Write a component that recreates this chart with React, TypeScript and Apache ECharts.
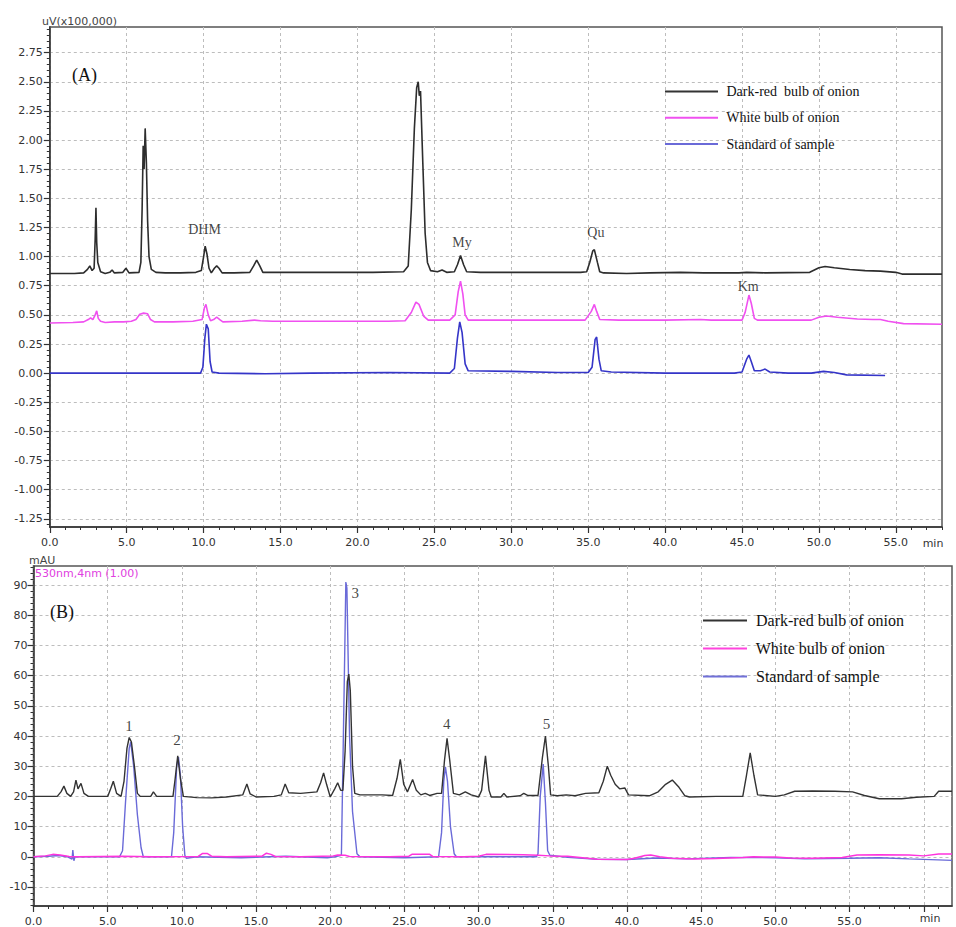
import React, { useEffect, useRef } from "react";
import * as echarts from "echarts";

// ---------- Names ----------
const NAMES_A = ["Dark-red  bulb of onion", "White bulb of onion", "Standard of sample"];
const NAMES_B = ["Dark-red bulb of onion", "White bulb of onion", "Standard of sample"];

// ---------- Ticks ----------
const X_TICKS_A = [0, 5, 10, 15, 20, 25, 30, 35, 40, 45, 50, 55];
const Y_TICKS_A = [-1.25, -1.0, -0.75, -0.5, -0.25, 0, 0.25, 0.5, 0.75, 1.0, 1.25, 1.5, 1.75, 2.0, 2.25, 2.5, 2.75];
const X_TICKS_B = [0, 5, 10, 15, 20, 25, 30, 35, 40, 45, 50, 55, 60];
const X_LABELS_B = [0, 5, 10, 15, 20, 25, 30, 35, 40, 45, 50, 55];
const Y_TICKS_B = [-10, 0, 10, 20, 30, 40, 50, 60, 70, 80, 90];

// ---------- Panel A data (min, uV x100,000) ----------
const DARK_RED_A: [number, number][] = [
  [0, 0.855], [1.6, 0.855], [2.2, 0.86], [2.45, 0.89], [2.6, 0.92], [2.75, 0.88], [2.88, 0.9], [2.95, 1.15],
  [3.0, 1.42], [3.05, 1.12], [3.12, 0.95], [3.3, 0.87], [3.6, 0.855], [3.9, 0.865], [4.05, 0.885], [4.2, 0.86],
  [4.75, 0.865], [4.95, 0.9], [5.15, 0.86], [5.8, 0.865], [5.92, 0.95], [6.0, 1.4], [6.07, 1.95], [6.13, 1.75],
  [6.2, 2.1], [6.28, 1.8], [6.36, 1.3], [6.45, 1.0], [6.6, 0.89], [6.9, 0.865], [7.5, 0.86], [8.5, 0.86],
  [9.5, 0.865], [9.85, 0.88], [10.0, 1.0], [10.1, 1.09], [10.22, 1.02], [10.35, 0.9], [10.5, 0.86], [10.7, 0.9],
  [10.85, 0.92], [11.0, 0.9], [11.2, 0.86], [12.0, 0.86], [13.0, 0.865], [13.25, 0.92], [13.45, 0.97],
  [13.65, 0.92], [13.85, 0.865], [15, 0.865], [18, 0.865], [21, 0.865], [23.0, 0.87], [23.3, 0.92],
  [23.5, 1.4], [23.7, 2.1], [23.85, 2.45], [23.95, 2.5], [24.02, 2.38], [24.1, 2.42], [24.25, 1.8],
  [24.4, 1.2], [24.55, 0.95], [24.75, 0.88], [25.2, 0.87], [25.5, 0.885], [25.8, 0.865], [26.3, 0.87],
  [26.5, 0.93], [26.7, 1.01], [26.9, 0.93], [27.1, 0.87], [28, 0.865], [31, 0.865], [34.5, 0.865],
  [34.9, 0.87], [35.1, 0.95], [35.3, 1.05], [35.4, 1.06], [35.6, 0.95], [35.75, 0.87], [36.0, 0.86],
  [37.5, 0.855], [39, 0.86], [41, 0.865], [42.5, 0.86], [44.8, 0.86], [45.3, 0.865], [46.5, 0.86],
  [49.4, 0.865], [50, 0.905], [50.4, 0.915], [51, 0.905], [52, 0.89], [53, 0.88], [54, 0.875], [55, 0.865],
  [55.4, 0.85], [58, 0.85],
];
const WHITE_A: [number, number][] = [
  [0, 0.43], [1.5, 0.435], [2.2, 0.44], [2.5, 0.46], [2.65, 0.475], [2.8, 0.46], [2.95, 0.5], [3.05, 0.535],
  [3.15, 0.47], [3.3, 0.445], [3.6, 0.435], [4.2, 0.44], [4.8, 0.44], [5.3, 0.445], [5.6, 0.46], [5.85, 0.505],
  [6.1, 0.515], [6.35, 0.51], [6.55, 0.46], [6.8, 0.44], [8, 0.44], [9.3, 0.445], [9.9, 0.46], [10.05, 0.56],
  [10.15, 0.59], [10.3, 0.5], [10.45, 0.45], [10.65, 0.46], [10.85, 0.48], [11.05, 0.46], [11.25, 0.44],
  [12.5, 0.445], [13.3, 0.455], [13.7, 0.45], [14.5, 0.445], [15.5, 0.445], [18, 0.445], [22, 0.445],
  [23.1, 0.45], [23.5, 0.52], [23.8, 0.61], [24.0, 0.59], [24.3, 0.49], [24.6, 0.455], [26.0, 0.455],
  [26.35, 0.5], [26.55, 0.7], [26.7, 0.79], [26.85, 0.68], [27.0, 0.5], [27.2, 0.455], [29, 0.455],
  [32.5, 0.455], [34.8, 0.455], [35.2, 0.53], [35.4, 0.59], [35.55, 0.53], [35.75, 0.46], [37, 0.455],
  [40, 0.455], [42.3, 0.46], [43, 0.455], [45.0, 0.455], [45.2, 0.52], [45.45, 0.67], [45.6, 0.6],
  [45.8, 0.47], [46.0, 0.455], [49.5, 0.455], [50.0, 0.48], [50.5, 0.49], [51.2, 0.48], [52.5, 0.465],
  [53.5, 0.46], [54, 0.46], [54.5, 0.445], [55.5, 0.425], [58, 0.42],
];
const STANDARD_A: [number, number][] = [
  [0, 0.0], [5, 0.0], [9.8, 0.0], [9.95, 0.05], [10.08, 0.3], [10.18, 0.42], [10.3, 0.38], [10.42, 0.1],
  [10.55, 0.01], [11, 0.0], [14, -0.005], [17, 0.0], [22, 0.005], [26.0, 0.0], [26.3, 0.04], [26.5, 0.3],
  [26.65, 0.44], [26.8, 0.35], [27.0, 0.08], [27.2, 0.02], [30, 0.015], [33, 0.005], [35.0, 0.005],
  [35.25, 0.05], [35.45, 0.29], [35.55, 0.31], [35.7, 0.12], [35.85, 0.02], [36.5, 0.01], [40, 0.0],
  [44.5, 0.0], [45.0, 0.01], [45.3, 0.12], [45.45, 0.155], [45.6, 0.1], [45.8, 0.02], [46.2, 0.02],
  [46.5, 0.035], [46.8, 0.01], [48, 0.0], [49.5, 0.0], [50.3, 0.015], [51, 0.005], [51.8, -0.015],
  [54.3, -0.02],
];

// ---------- Panel B data (min, mAU) ----------
const DARK_RED_B: [number, number][] = [
  [0, 20], [1.6, 20], [1.85, 21.5], [2.05, 23.4], [2.25, 21], [2.5, 20], [2.7, 21.5], [2.86, 25.4], [3.0, 22.5],
  [3.2, 24.3], [3.4, 21], [3.7, 20], [5.0, 20], [5.2, 22.5], [5.38, 25], [5.6, 21], [5.9, 20], [6.1, 25],
  [6.3, 36], [6.45, 39.5], [6.6, 38], [6.8, 30], [7.0, 21], [7.2, 20], [7.9, 20], [8.08, 21.5], [8.3, 20],
  [9.4, 20], [9.55, 26], [9.72, 33.4], [9.9, 26], [10.1, 20], [11, 19.6], [12, 19.5], [13, 19.8], [14.1, 20.5],
  [14.38, 24.1], [14.6, 20.8], [15, 19.8], [16.2, 20], [16.7, 20.5], [16.96, 24.1], [17.2, 21.2], [18, 21],
  [19.1, 21.5], [19.35, 24.5], [19.55, 27.8], [19.75, 24], [20.0, 19.8], [20.3, 22.5], [20.5, 24.5],
  [20.7, 22], [20.85, 22], [21.0, 35], [21.15, 58], [21.25, 60.5], [21.35, 55], [21.5, 30], [21.65, 21],
  [22, 20.5], [23.5, 20.5], [24.2, 20.3], [24.5, 26], [24.72, 32.3], [24.95, 24], [25.2, 21.5], [25.55, 25.6],
  [25.8, 22], [26.1, 20.5], [26.4, 21], [26.7, 20.3], [27.2, 21], [27.5, 21], [27.7, 32], [27.87, 39.2],
  [28.05, 32], [28.3, 21], [28.7, 20.5], [29.1, 21.5], [29.5, 20.5], [30.0, 19.8], [30.2, 22], [30.46, 33.4],
  [30.7, 22], [30.85, 19.8], [31.5, 19.8], [31.7, 21], [31.9, 19.8], [32.8, 20.2], [33.04, 21], [33.3, 20.3],
  [34.0, 20.3], [34.3, 33], [34.5, 40], [34.7, 30], [34.85, 20.5], [35.3, 20.2], [35.9, 20.5], [36.5, 20.2],
  [37.2, 21], [38.1, 21.2], [38.4, 25], [38.67, 30], [38.9, 27], [39.2, 24], [39.5, 22.5], [39.85, 22.8],
  [40.1, 20.5], [41.5, 20.2], [42.1, 21.5], [42.6, 24], [43.05, 25.4], [43.5, 23], [43.9, 20.2], [44.2, 19.8],
  [46, 20], [47.8, 20], [48.05, 27], [48.3, 34.4], [48.55, 27], [48.8, 20.5], [50, 20], [50.6, 20.5],
  [51.3, 21.7], [52.5, 21.8], [54, 21.7], [55.2, 21.5], [56, 20.3], [57, 19.2], [58.5, 19.2], [59.5, 19.7],
  [60.7, 20], [61.0, 21.7], [61.9, 21.7],
];
const WHITE_B: [number, number][] = [
  [0, 0], [0.8, 0.3], [1.3, 0.8], [1.8, 0.6], [2.4, 0.1], [3, 0], [6, 0.2], [8, 0], [11.1, 0.1], [11.4, 1.1],
  [11.7, 1.1], [12, 0.2], [13, 0], [15.4, 0.2], [15.7, 1.2], [16.0, 0.8], [16.3, 0.1], [18, 0], [20.2, 0.3],
  [20.5, 0.6], [21, 0.5], [21.3, 0.1], [24, 0], [25.3, 0.2], [25.5, 0.8], [26.7, 0.8], [26.9, 0.1], [29, 0],
  [30, 0.2], [30.5, 0.8], [33, 0.7], [34, 0.5], [34.8, 0.3], [36, 0.2], [37, -0.3], [38, -0.8], [40, -0.9],
  [40.5, -0.5], [41.2, 0.4], [41.6, 0.6], [42.2, 0], [43, -0.5], [44.5, -0.7], [46, -0.6], [47.8, -0.2],
  [48.5, 0], [50, -0.1], [51, -0.4], [52.5, -0.5], [54.5, -0.2], [55.5, 0.6], [57, 0.7], [59, 0.6], [60, 0.3],
  [61, 0.9], [61.9, 0.9],
];
const STANDARD_B: [number, number][] = [
  [0, 0], [1, 0.2], [1.7, 0.4], [2.3, 0], [2.6, -0.8], [2.65, 2.2], [2.72, -1.3], [2.8, 0], [5.8, 0], [6.0, 2],
  [6.2, 18], [6.45, 36], [6.55, 38], [6.75, 30], [7.0, 14], [7.25, 3], [7.4, 0], [9.3, 0], [9.45, 8],
  [9.65, 30], [9.77, 33], [9.9, 27], [10.05, 10], [10.2, 0.5], [10.3, -0.5], [11, 0], [14, -0.3], [17, 0.2],
  [19.8, -0.3], [20.3, 0], [20.75, 0.5], [20.85, 30], [20.95, 60], [21.05, 91], [21.12, 89], [21.3, 40],
  [21.5, 15], [21.8, 1], [22, 0], [25, -0.3], [27.3, 0], [27.5, 8], [27.65, 25], [27.76, 29.8], [27.9, 25],
  [28.1, 10], [28.35, 1], [28.5, 0], [33.9, 0], [34.0, 1], [34.15, 20], [34.35, 30.7], [34.5, 18],
  [34.65, 2], [34.8, 0.5], [36, -0.2], [38, -0.8], [40, -0.9], [42, -0.4], [44, -0.7], [47, -0.2],
  [50, -0.3], [52, -0.7], [55, -0.5], [57, -0.3], [59, -0.7], [61.9, -1.2],
];

// ---------- Peak annotations: [label, time, value] ----------
const PEAKS_A: [string, number, number][] = [
  ["DHM", 10.06, 1.23], ["My", 26.8, 1.12], ["Qu", 35.5, 1.21], ["Km", 45.4, 0.74],
];
const PEAKS_B: [string, number, number][] = [
  ["1", 6.43, 43.3], ["2", 9.67, 38.7], ["3", 21.69, 87.5], ["4", 27.85, 43.9], ["5", 34.57, 44],
];

// tick helper (positions only)
function minorTicks(start: number, end: number, step: number, majorStep: number): number[] {
  const out: number[] = [];
  const n = Math.round((end - start) / step);
  for (let i = 0; i <= n; i++) {
    const v = Math.round((start + i * step) * 1000) / 1000;
    const r = v / majorStep;
    if (Math.abs(r - Math.round(r)) > 1e-6) out.push(v);
  }
  return out;
}

const AXIS_FONT = { fontFamily: "DejaVu Sans", fontSize: 11, color: "#333" };
const SPLIT = { show: true, lineStyle: { color: "#bdbdbd", type: [3, 3] as number[], width: 1 } };
const AXIS_LINE = { show: true, onZero: false, lineStyle: { color: "#333", width: 1.5 } };

export default function App() {
  const ref = useRef<HTMLDivElement>(null);
  useEffect(() => {
    document.body.style.margin = "0";
    document.body.style.overflow = "hidden";
    if (!ref.current) return;
    const chart = echarts.init(ref.current, null, { renderer: "svg" });

    const xMinorA = minorTicks(0, 58, 1, 5);
    const yMinorA = minorTicks(-1.3, 2.95, 0.05, 0.25);
    const xMinorB = minorTicks(0, 61, 1, 5);
    const yMinorB = minorTicks(-16, 96, 2, 10);

    const majorX = (gridIndex: number, max: number, ticks: number[], labels: number[]) => ({
      type: "value", gridIndex, min: 0, max, position: "bottom",
      axisLine: AXIS_LINE,
      axisTick: { show: true, customValues: ticks, length: 6, lineStyle: { color: "#333", width: 1.2 } },
      axisLabel: { show: true, customValues: labels, margin: 10, ...AXIS_FONT, formatter: (v: number) => v.toFixed(1) },
      splitLine: SPLIT,
    });
    const minorX = (gridIndex: number, max: number, ticks: number[]) => ({
      type: "value", gridIndex, min: 0, max, position: "bottom",
      axisLine: { show: false, onZero: false },
      axisTick: { show: true, customValues: ticks, length: 3, lineStyle: { color: "#333", width: 1 } },
      axisLabel: { show: false },
      splitLine: { show: false },
    });
    const majorY = (gridIndex: number, min: number, max: number, ticks: number[], digits: number, margin: number) => ({
      type: "value", gridIndex, min, max, position: "left",
      axisLine: AXIS_LINE,
      axisTick: { show: true, customValues: ticks, length: 6, lineStyle: { color: "#333", width: 1.2 } },
      axisLabel: { show: true, customValues: ticks, margin, ...AXIS_FONT, formatter: (v: number) => v.toFixed(digits) },
      splitLine: SPLIT,
    });
    const minorY = (gridIndex: number, min: number, max: number, ticks: number[]) => ({
      type: "value", gridIndex, min, max, position: "left",
      axisLine: { show: false, onZero: false },
      axisTick: { show: true, customValues: ticks, length: 3, lineStyle: { color: "#333", width: 1 } },
      axisLabel: { show: false },
      splitLine: { show: false },
    });

    const line = (name: string, data: [number, number][], color: string, width: number, axis: number, z: number) => ({
      type: "line", name, data, xAxisIndex: axis, yAxisIndex: axis, showSymbol: false, symbol: "none",
      lineStyle: { color, width }, itemStyle: { color }, z, silent: true,
    });
    const annot = (peaks: [string, number, number][], axis: number, size: number) => ({
      type: "scatter", name: "labels" + axis, xAxisIndex: axis, yAxisIndex: axis, symbolSize: 1, silent: true,
      itemStyle: { color: "rgba(0,0,0,0)" },
      data: peaks.map(([n, t, v]) => ({ name: n, value: [t, v] })),
      label: { show: true, position: "inside", formatter: "{b}", fontFamily: "Liberation Serif", fontSize: size, color: "#111" },
      z: 10,
    });

    const legend = (names: string[], colors: string[], left: number, top: number, w: number, gap: number, size: number) => ({
      orient: "vertical", left, top, padding: 0, itemWidth: w, itemHeight: 2, itemGap: gap, icon: "rect",
      selectedMode: false,
      textStyle: { fontFamily: "Liberation Serif", fontSize: size, color: "#111" },
      formatter: (n: string) => " " + n,
      data: names.map((n, i) => ({ name: n, itemStyle: { color: colors[i] } })),
    });

    const text = (id: string, t: string, x: number, y: number, size: number, family: string, fill: string, align = "left") => ({
      type: "text", id, x, y, silent: true, z: 20,
      style: { text: t, fontSize: size, fontFamily: family, fill, align, verticalAlign: "middle" },
    });

    chart.setOption({
      animation: false,
      backgroundColor: "#fff",
      grid: [
        { left: 49.8, top: 27, width: 892.2, height: 500, show: true, borderColor: "#555", borderWidth: 1.5, containLabel: false, outerBoundsMode: "none" },
        { left: 33.5, top: 566, width: 918.5, height: 340, show: true, borderColor: "#555", borderWidth: 1.5, containLabel: false, outerBoundsMode: "none" },
      ],
      xAxis: [
        majorX(0, 58, X_TICKS_A, X_TICKS_A),
        minorX(0, 58, xMinorA),
        majorX(1, 61.9, X_TICKS_B, X_LABELS_B),
        minorX(1, 61.9, xMinorB),
      ],
      yAxis: [
        majorY(0, -1.32, 2.97, Y_TICKS_A, 2, 7),
        minorY(0, -1.32, 2.97, yMinorA),
        majorY(1, -16.3, 96.3, Y_TICKS_B, 0, 6),
        minorY(1, -16.3, 96.3, yMinorB),
      ],
      legend: [
        legend(NAMES_A, ["#333333", "#f050f0", "#6a6ad8"], 665, 84.5, 53, 12.3, 14),
        legend(NAMES_B, ["#333333", "#ff44dd", "#7070d8"], 703, 612.5, 44, 12, 16),
      ],
      series: [
        line(NAMES_A[0], DARK_RED_A, "#2d2d2d", 1.6, 0, 3),
        line(NAMES_A[1], WHITE_A, "#f050f0", 1.6, 0, 3),
        line(NAMES_A[2], STANDARD_A, "#3535c8", 1.6, 0, 3),
        line(NAMES_B[2], STANDARD_B, "#6a6ad8", 1.4, 2, 2),
        line(NAMES_B[0], DARK_RED_B, "#333333", 1.4, 2, 3),
        line(NAMES_B[1], WHITE_B, "#ff33dd", 1.5, 2, 4),
        annot(PEAKS_A, 0, 14),
        annot(PEAKS_B, 2, 15),
      ],
      graphic: {
        elements: [
          text("unitA", "uV(x100,000)", 42, 21, 11, "DejaVu Sans", "#444"),
          text("minA", "min", 933, 543, 11, "DejaVu Sans", "#333", "center"),
          text("tagA", "(A)", 72, 75, 18, "Liberation Serif", "#111"),
          text("unitB", "mAU", 29, 560, 11, "DejaVu Sans", "#444"),
          text("waveB", "530nm,4nm (1.00)", 35, 573, 11, "DejaVu Sans", "#e040e0"),
          text("tagB", "(B)", 50, 612, 18, "Liberation Serif", "#111"),
          text("minB", "min", 930, 918, 11, "DejaVu Sans", "#333", "center"),
        ],
      },
    });
    return () => chart.dispose();
  }, []);
  return <div ref={ref} style={{ width: 956, height: 927 }} />;
}
